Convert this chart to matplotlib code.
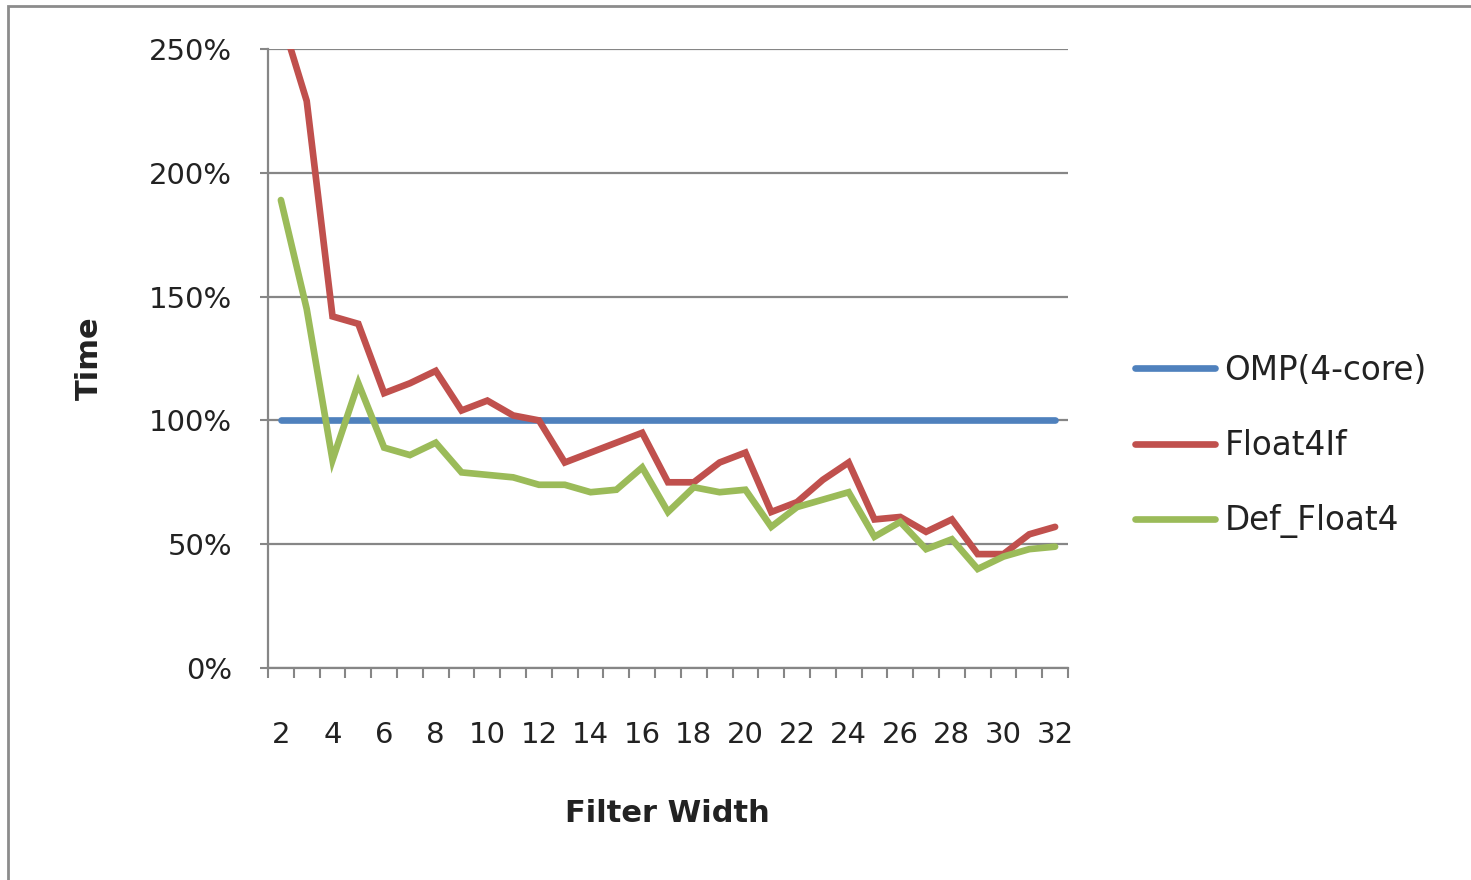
import matplotlib
matplotlib.use("Agg")
import matplotlib.pyplot as plt
from matplotlib.patches import Rectangle
from matplotlib.ticker import FuncFormatter

# filter widths 2..32
widths = list(range(2, 33))

omp = [100] * 31
float4if = [263, 229, 142, 139, 111, 115, 120, 104, 108, 102, 100, 83, 87, 91, 95,
            75, 75, 83, 87, 63, 67, 76, 83, 60, 61, 55, 60, 46, 46, 54, 57]
def_float4 = [189, 145, 84, 115, 89, 86, 91, 79, 78, 77, 74, 74, 71, 72, 81,
              63, 73, 71, 72, 57, 65, 68, 71, 53, 59, 48, 52, 40, 45, 48, 49]

series_names = ["OMP(4-core)", "Float4If", "Def_Float4"]
colors = ["#4F81BD", "#C0504D", "#9BBB59"]

y_ticks = [0, 50, 100, 150, 200, 250]
x_labels = list(range(2, 33, 2))

plt.rcParams['font.family'] = ['DejaVu Sans']
fig = plt.figure(figsize=(14.71, 8.8), dpi=100)
ax = fig.add_axes([268 / 1471, 1 - 668 / 880, 800 / 1471, 619 / 880])

for vals, name, c in zip([omp, float4if, def_float4], series_names, colors):
    ax.plot(widths, vals, color=c, lw=4.8, label=name, solid_capstyle='round',
            solid_joinstyle='miter')

ax.set_xlim(1.5, 32.5)
ax.set_ylim(0, 250)

grid_c = "#868686"
ax.set_yticks(y_ticks)
ax.yaxis.set_major_formatter(FuncFormatter(lambda v, p: f"{int(v)}%"))
ax.grid(axis='y', color=grid_c, lw=1.6)
ax.set_axisbelow(True)

ax.set_xticks(x_labels)
ax.set_xticks([w - 0.5 for w in widths] + [32.5], minor=True)
ax.tick_params(axis='x', which='major', length=0, pad=38, labelsize=21, colors='#222222')
ax.tick_params(axis='x', which='minor', length=7, width=1.5, color=grid_c, direction='out')
ax.tick_params(axis='y', which='major', length=6, width=1.5, color=grid_c, pad=20,
               labelsize=21, labelcolor='#222222')

for s in ['top', 'right']:
    ax.spines[s].set_visible(False)
for s in ['left', 'bottom']:
    ax.spines[s].set_color(grid_c)
    ax.spines[s].set_linewidth(1.6)

ax.set_xlabel("Filter Width", fontsize=22, fontweight='bold', color='#222222')
ax.xaxis.set_label_coords(0.499, -0.212)
ax.set_ylabel("Time", fontsize=22, fontweight='bold', color='#222222')
ax.yaxis.set_label_coords(-0.205, 0.5)

leg = fig.legend(loc='center left', bbox_to_anchor=(1106 / 1471, 1 - 446 / 880),
                 frameon=False, fontsize=23.5, handlelength=2.45, handletextpad=0.28,
                 labelspacing=1.3)
for t in leg.get_texts():
    t.set_color('#222222')

# chart area border
fig.patches.append(Rectangle((8 / 1471, -0.1), 1.2, 1 - 6 / 880 + 0.1,
                             transform=fig.transFigure, fill=False,
                             edgecolor='#8c8c8c', lw=2))

fig.savefig("out.png", dpi=100)
